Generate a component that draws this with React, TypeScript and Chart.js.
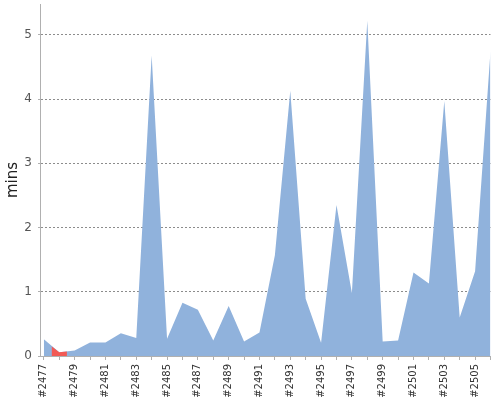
import { useEffect, useRef } from "react"
import { Chart, registerables } from "chart.js"

Chart.register(...registerables)

// build numbers and their durations (minutes)
const builds = [
  2477, 2478, 2479, 2480, 2481, 2482, 2483, 2484, 2485, 2486,
  2487, 2488, 2489, 2490, 2491, 2492, 2493, 2494, 2495, 2496,
  2497, 2498, 2499, 2500, 2501, 2502, 2503, 2504, 2505, 2506,
]
const durations = [
  0.26, 0.06, 0.085, 0.21, 0.21, 0.355, 0.28, 4.68, 0.27, 0.83,
  0.72, 0.24, 0.78, 0.225, 0.365, 1.57, 4.13, 0.89, 0.205, 2.35,
  0.98, 5.22, 0.225, 0.24, 1.3, 1.13, 3.97, 0.6, 1.32, 4.75,
]

// failed build #2478, drawn as a band around its category
const failedX = [2477.5, 2478, 2478.5]
const failedMins = [0.15, 0.06, 0.07]

const yTicks = [0, 1, 2, 3, 4, 5]

export default function App() {
  const canvasRef = useRef<HTMLCanvasElement>(null)

  useEffect(() => {
    document.body.style.margin = "0"
    if (!canvasRef.current) return
    const ctx = canvasRef.current.getContext("2d")
    if (!ctx) return

    const chart = new Chart(ctx, {
      type: "line",
      data: {
        datasets: [
          {
            label: "failed",
            data: failedX.map((x, i) => ({ x, y: failedMins[i] })),
            backgroundColor: "#f25a55",
            borderWidth: 0,
            pointRadius: 0,
            fill: "origin",
            order: 0,
          },
          {
            label: "success",
            data: builds.map((b, i) => ({ x: b, y: durations[i] })),
            backgroundColor: "#90b2dc",
            borderWidth: 0,
            pointRadius: 0,
            fill: "origin",
            order: 1,
          },
        ],
      },
      options: {
        responsive: false,
        animation: false,
        layout: { padding: { top: 4, right: 9.5, left: 0, bottom: 0 } },
        plugins: {
          legend: { display: false },
          tooltip: { enabled: false },
        },
        scales: {
          x: {
            type: "linear",
            min: 2476.75,
            max: 2506,
            afterBuildTicks: (scale: any) => {
              scale.ticks = builds.map((b) => ({ value: b }))
            },
            afterFit: (scale: any) => {
              scale.height = 44
              scale.paddingLeft = 0
              scale.paddingRight = 0
            },
            border: { display: true, color: "#b0b0b0" },
            grid: {
              drawOnChartArea: false,
              drawTicks: true,
              tickLength: 4,
              tickColor: "#b0b0b0",
            },
            ticks: {
              autoSkip: false,
              maxRotation: 90,
              minRotation: 90,
              padding: 4,
              color: "#333",
              font: { family: "DejaVu Sans", size: 10 },
              callback: (v: any) => ((v - builds[0]) % 2 === 0 ? "#" + v : ""),
            },
          },
          y: {
            min: 0,
            max: 5.48,
            afterBuildTicks: (scale: any) => {
              scale.ticks = yTicks.map((v) => ({ value: v }))
            },
            afterFit: (scale: any) => {
              scale.width = 40
              scale.paddingTop = 0
              scale.paddingBottom = 0
            },
            border: { display: true, color: "#b0b0b0", dash: [2, 2] },
            grid: {
              color: (c: any) => (c.tick && c.tick.value === 0 ? "rgba(0,0,0,0)" : "#8c8c8c"),
              tickColor: "#b0b0b0",
              drawTicks: true,
              tickLength: 2,
            },
            ticks: {
              padding: 6,
              color: "#555",
              font: { family: "DejaVu Sans", size: 12 },
            },
            title: {
              display: true,
              text: "mins",
              color: "#222",
              font: { family: "DejaVu Sans", size: 15 },
              padding: { top: 4, bottom: 0 },
            },
          },
        },
      },
    })

    return () => {
      chart.destroy()
    }
  }, [])

  return (
    <div style={{ width: 500, height: 400 }}>
      <canvas ref={canvasRef} width={500} height={400} />
    </div>
  )
}
